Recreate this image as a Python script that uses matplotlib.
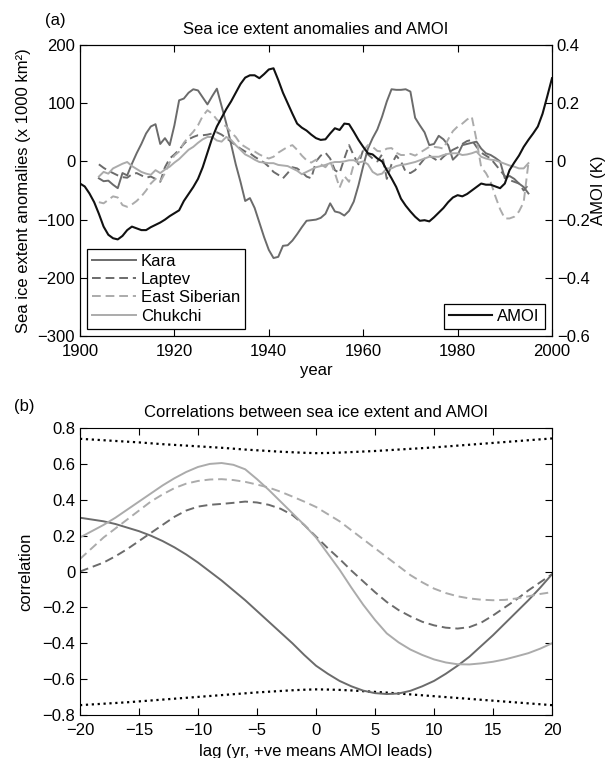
import numpy as np
import matplotlib
matplotlib.use('Agg')
import matplotlib.pyplot as plt
from matplotlib.ticker import FuncFormatter

plt.rcParams['font.family'] = ['Liberation Sans', 'DejaVu Sans']
plt.rcParams['font.size'] = 12

# ---- panel (a) data: sea ice extent anomalies (x 1000 km2), 1904-1995 ----
ice_years = np.arange(1904, 1996)
kara = [-29, -34, -33, -40, -46, -20, -24, -4, 14, 30,
        48, 60, 64, 30, 40, 28, 62, 105, 108, 118,
        124, 122, 110, 98, 112, 125, 95, 65, 30, -5,
        -35, -68, -63, -80, -105, -130, -152, -166, -164, -145,
        -144, -136, -125, -113, -102, -101, -100, -97, -90, -72,
        -86, -88, -93, -85, -69, -41, -8, 22, 40, 55,
        77, 103, 124, 123, 123, 124, 120, 75, 62, 50,
        28, 30, 44, 38, 28, 3, 11, 28, 30, 32,
        34, 22, 14, 11, 6, 0, -29, -25, -30, -38,
        -44, -55]
laptev = [-5, -11, -16, -20, -24, -27, -28, -22, -20, -24,
          -28, -26, -30, -35, -10, 5, 12, 20, 30, 38,
          42, 45, 45, 46, 48, 50, 46, 40, 34, 28,
          22, 17, 14, 8, 3, -2, -9, -18, -23, -29,
          -20, -10, -12, -18, -26, -29, 0, 10, 15, 5,
          -15, -20, 5, 28, 10, -5, 20, 12, 5, 0,
          12, -30, -5, 10, 0, -18, -20, -15, -5, 5,
          10, 5, 0, 8, 15, 20, 24, 30, 35, 37,
          25, 15, 10, 5, -5, -15, -25, -32, -35, -38,
          -50, -40]
east_siberian = [-70, -72, -66, -60, -62, -75, -78, -74, -68, -60,
                 -50, -38, -30, -35, -20, -2, 10, 17, 32, 42,
                 51, 62, 78, 88, 82, 72, 65, 60, 50, 42,
                 30, 25, 20, 17, 12, 8, 5, 8, 15, 20,
                 25, 28, 20, 10, 2, -2, 3, -5, -10, 0,
                 -20, -45, -25, -35, -5, 5, 18, 28, 25, 18,
                 17, 22, 23, 15, 11, 11, 13, 10, 15, 20,
                 25, 25, 24, 22, 38, 52, 60, 65, 72, 77,
                 37, -10, -20, -35, -60, -82, -98, -98, -95, -86,
                 -70, -3]
chukchi = [-26, -18, -21, -12, -8, -4, -1, -8, -13, -18,
           -21, -23, -15, -20, -14, -9, -2, 4, 12, 20,
           25, 32, 38, 42, 42, 36, 34, 42, 37, 28,
           20, 12, 8, 3, -1, -2, -3, -3, -6, -7,
           -8, -12, -16, -22, -18, -14, -10, -8, -6, -3,
           -1, -1, 0, 2, 2, -2, 0, -5, -18, -23,
           -21, -12, -12, -8, -6, -5, -3, -1, 2, 5,
           8, 8, 8, 11, 13, 14, 14, 11, 12, 14,
           17, 8, 5, 3, 2, -1, -4, -7, -9, -12,
           -12, -3]

# AMOI (K), 1900-2000
amoi_years = np.arange(1900, 2001)
amoi = [-0.076, -0.086, -0.110, -0.140, -0.180, -0.224, -0.252, -0.264, -0.268, -0.256,
        -0.236, -0.224, -0.230, -0.236, -0.236, -0.226, -0.218, -0.210, -0.200, -0.188,
        -0.178, -0.168, -0.136, -0.112, -0.088, -0.060, -0.020, 0.030, 0.080, 0.120,
        0.150, 0.180, 0.206, 0.236, 0.266, 0.288, 0.296, 0.296, 0.286, 0.300,
        0.316, 0.320, 0.280, 0.236, 0.200, 0.164, 0.130, 0.116, 0.106, 0.092,
        0.080, 0.074, 0.076, 0.096, 0.114, 0.108, 0.130, 0.128, 0.102, 0.074,
        0.050, 0.028, 0.024, 0.010, 0.000, -0.030, -0.058, -0.088, -0.128, -0.152,
        -0.172, -0.190, -0.204, -0.202, -0.206, -0.192, -0.176, -0.160, -0.140, -0.124,
        -0.116, -0.120, -0.112, -0.100, -0.088, -0.076, -0.080, -0.080, -0.086, -0.092,
        -0.076, -0.030, -0.004, 0.020, 0.050, 0.074, 0.096, 0.120, 0.164, 0.224,
        0.286]

# ---- panel (b) data: lagged correlations ----
lags = np.arange(-20, 21)
corr_kara = [0.30, 0.29, 0.28, 0.265, 0.245, 0.225, 0.20, 0.17, 0.135, 0.095,
             0.05, 0.0, -0.05, -0.105, -0.16, -0.22, -0.28, -0.34, -0.40, -0.465,
             -0.525, -0.57, -0.61, -0.64, -0.664, -0.678, -0.683, -0.68, -0.665, -0.64,
             -0.61, -0.57, -0.525, -0.475, -0.415, -0.355, -0.29, -0.225, -0.16, -0.09,
             -0.015]
corr_laptev = [0.0, 0.025, 0.05, 0.085, 0.125, 0.17, 0.215, 0.26, 0.305, 0.34,
               0.362, 0.372, 0.377, 0.383, 0.39, 0.385, 0.372, 0.35, 0.315, 0.26,
               0.195, 0.13, 0.07, 0.005, -0.055, -0.115, -0.17, -0.215, -0.25, -0.28,
               -0.30, -0.313, -0.318, -0.31, -0.285, -0.245, -0.20, -0.155, -0.105, -0.06,
               -0.015]
corr_esib = [0.07, 0.13, 0.19, 0.24, 0.29, 0.34, 0.39, 0.43, 0.465, 0.49,
             0.505, 0.513, 0.515, 0.51, 0.50, 0.485, 0.468, 0.445, 0.418, 0.39,
             0.36, 0.32, 0.28, 0.23, 0.18, 0.13, 0.08, 0.03, -0.02, -0.06,
             -0.095, -0.12, -0.138, -0.15, -0.157, -0.16, -0.158, -0.15, -0.138, -0.125,
             -0.115]
corr_chuk = [0.19, 0.225, 0.26, 0.30, 0.345, 0.39, 0.435, 0.48, 0.52, 0.555,
             0.583, 0.60, 0.605, 0.595, 0.57, 0.515, 0.455, 0.39, 0.325, 0.26,
             0.19, 0.10, 0.01, -0.09, -0.185, -0.27, -0.345, -0.395, -0.435, -0.465,
             -0.49, -0.507, -0.517, -0.518, -0.512, -0.503, -0.49, -0.473, -0.455, -0.43,
             -0.40]
sig_upper = [0.740, 0.736, 0.732, 0.728, 0.724, 0.720, 0.715, 0.710, 0.706, 0.702,
             0.698, 0.694, 0.690, 0.685, 0.680, 0.676, 0.672, 0.668, 0.665, 0.662,
             0.660, 0.661, 0.663, 0.666, 0.669, 0.672, 0.676, 0.680, 0.684, 0.688,
             0.692, 0.697, 0.702, 0.707, 0.712, 0.717, 0.722, 0.727, 0.732, 0.737,
             0.742]
sig_lower = [-0.745, -0.741, -0.737, -0.733, -0.729, -0.724, -0.719, -0.714, -0.709, -0.704,
             -0.699, -0.694, -0.689, -0.684, -0.679, -0.674, -0.670, -0.666, -0.662, -0.659,
             -0.657, -0.658, -0.660, -0.663, -0.667, -0.671, -0.675, -0.680, -0.685, -0.690,
             -0.695, -0.700, -0.705, -0.710, -0.715, -0.720, -0.725, -0.730, -0.735, -0.740,
             -0.745]

dark = '#6b6b6b'
light = '#ababab'
dash = (0, (4.5, 2.5))


def fmt(v, pos):
    return f'{round(v, 6):g}'.replace('-', '\u2212')


fig = plt.figure(figsize=(6.13, 7.58), dpi=100)

# ---------------- panel (a) ----------------
ax = fig.add_axes([0.1305, 0.5567, 0.770, 0.3839])
ax2 = ax.twinx()

l1, = ax.plot(ice_years, kara, color=dark, lw=1.4, label='Kara')
l2, = ax.plot(ice_years, laptev, color=dark, lw=1.4, ls=dash, label='Laptev')
l3, = ax.plot(ice_years, east_siberian, color=light, lw=1.4, ls=dash, label='East Siberian')
l4, = ax.plot(ice_years, chukchi, color=light, lw=1.4, label='Chukchi')
l5, = ax2.plot(amoi_years, amoi, color='#111111', lw=1.5, label='AMOI')

ax.set_xlim(1900, 2000)
ax.set_ylim(-300, 200)
ax.set_xticks(range(1900, 2001, 20))
ax.set_yticks(range(-300, 201, 100))
ax2.set_ylim(-0.6, 0.4)
ax2.set_yticks([-0.6, -0.4, -0.2, 0, 0.2, 0.4])
ax.yaxis.set_major_formatter(FuncFormatter(fmt))
ax2.yaxis.set_major_formatter(FuncFormatter(fmt))
ax.tick_params(direction='in', length=5, top=True, right=False)
ax.tick_params(axis='x', pad=5.5)
ax2.tick_params(direction='in', length=5)

ax.set_title('Sea ice extent anomalies and AMOI', fontsize=12, pad=8)
ax.set_xlabel('year')
ax.set_ylabel('Sea ice extent anomalies (x 1000 km²)')
ax2.set_ylabel('AMOI (K)')
ax.yaxis.set_label_coords(-0.104, 0.5)
ax2.yaxis.set_label_coords(1.083, 0.5)
ax.xaxis.set_label_coords(0.5, -0.093)

leg1 = ax2.legend(handles=[l1, l2, l3, l4], loc='lower left', fancybox=False,
                  edgecolor='black', framealpha=1, borderaxespad=0.45,
                  handlelength=2.6, handletextpad=0.3, labelspacing=0.2, borderpad=0.3)
leg1.get_frame().set_linewidth(0.9)
ax2.add_artist(leg1)
leg2 = ax2.legend(handles=[l5], loc='lower right', fancybox=False,
                  edgecolor='black', framealpha=1, borderaxespad=0.45,
                  handlelength=2.6, handletextpad=0.3, borderpad=0.3)
leg2.get_frame().set_linewidth(0.9)

fig.text(55 / 613, 1 - 20 / 758, '(a)', ha='center', va='center')

# ---------------- panel (b) ----------------
bx = fig.add_axes([0.1305, 0.0567, 0.770, 0.3786])
bx.plot(lags, sig_upper, color='black', lw=1.6, ls=':')
bx.plot(lags, sig_lower, color='black', lw=1.6, ls=':')
bx.plot(lags, corr_kara, color=dark, lw=1.4)
bx.plot(lags, corr_laptev, color=dark, lw=1.4, ls=dash)
bx.plot(lags, corr_esib, color=light, lw=1.4, ls=dash)
bx.plot(lags, corr_chuk, color=light, lw=1.4)

bx.set_xlim(-20, 20)
bx.set_ylim(-0.8, 0.8)
bx.set_xticks(range(-20, 21, 5))
bx.set_yticks([-0.8, -0.6, -0.4, -0.2, 0, 0.2, 0.4, 0.6, 0.8])
bx.xaxis.set_major_formatter(FuncFormatter(fmt))
bx.yaxis.set_major_formatter(FuncFormatter(fmt))
bx.tick_params(direction='in', length=5, top=True, right=True)
bx.tick_params(axis='x', pad=5.5)
bx.set_title('Correlations between sea ice extent and AMOI', fontsize=12, pad=8)
bx.set_xlabel('lag (yr, +ve means AMOI leads)')
bx.set_ylabel('correlation')
bx.yaxis.set_label_coords(-0.1, 0.5)
bx.xaxis.set_label_coords(0.5, -0.101)

fig.text(24 / 613, 1 - 407 / 758, '(b)', ha='center', va='center')

fig.savefig('out.png', dpi=100)
